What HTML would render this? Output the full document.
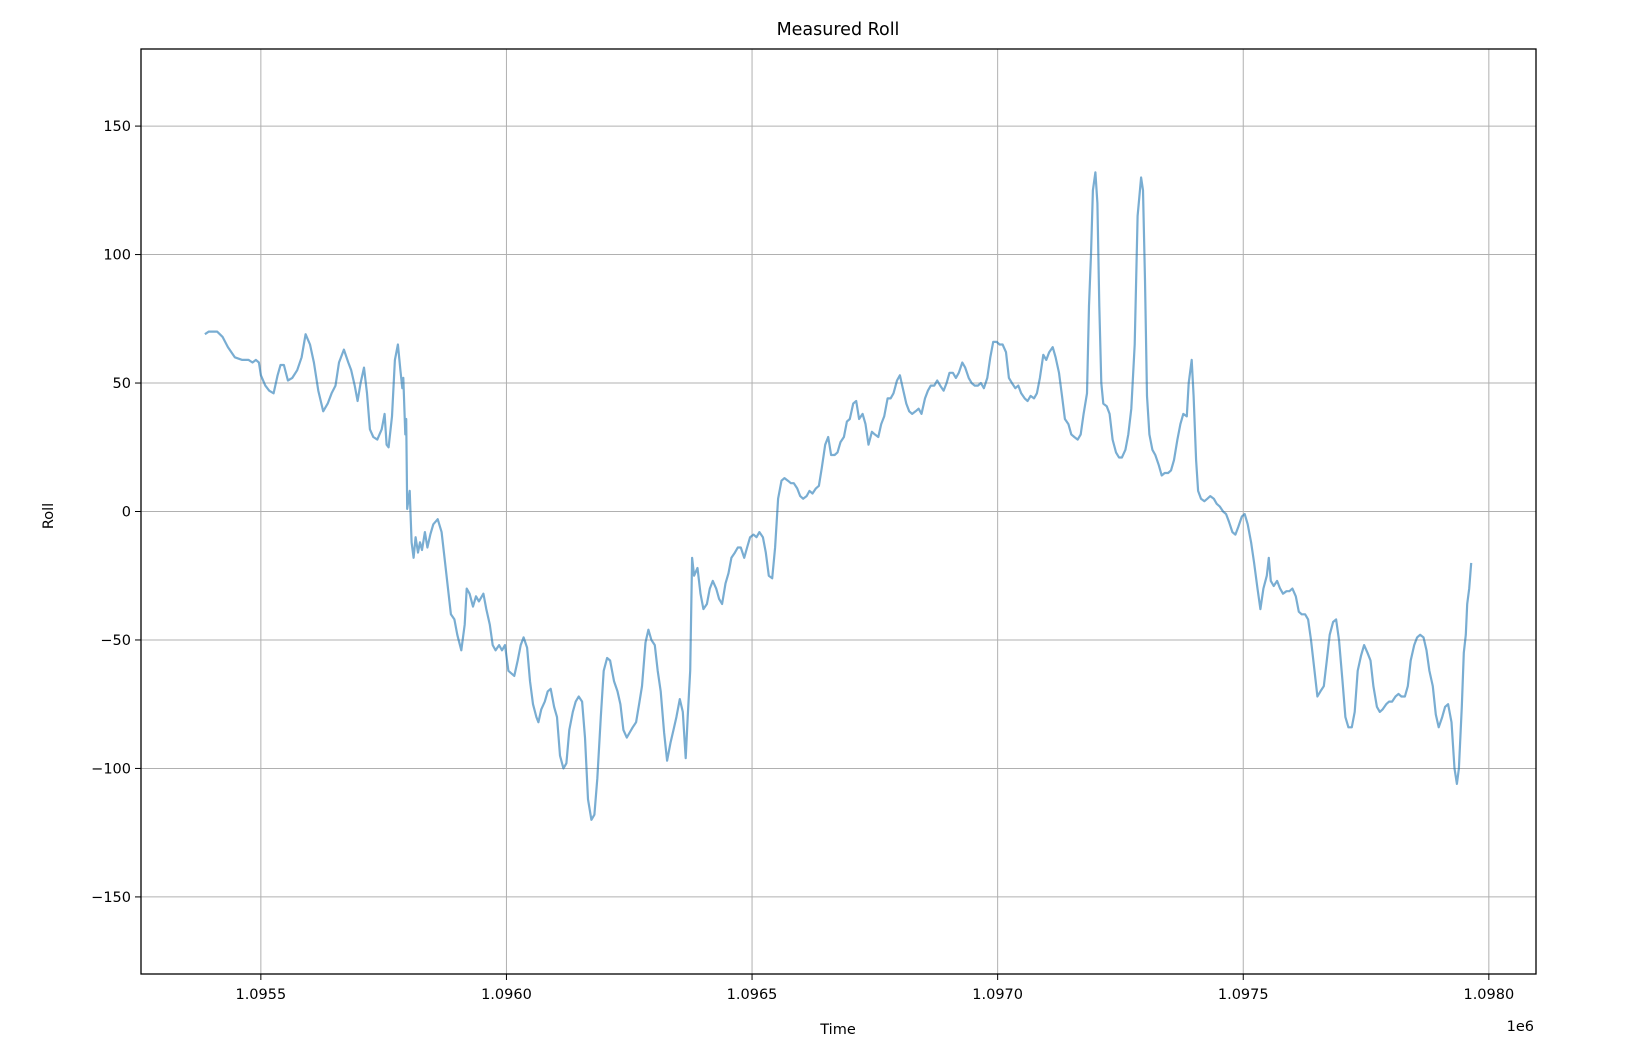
<!DOCTYPE html>
<html><head><meta charset="utf-8"><style>
html,body{margin:0;padding:0;background:#fff;}
svg{display:block;font-family:"DejaVu Sans","Liberation Sans",sans-serif;}
</style></head><body>
<svg id="chart" width="1630" height="1058" viewBox="0 0 1630 1058" xmlns="http://www.w3.org/2000/svg">
<rect width="1630" height="1058" fill="#fff"/>
<text x="838" y="35" text-anchor="middle" font-size="17.5" fill="#000">Measured Roll</text>
<g id="grid"></g>
<g id="ticks"></g>
<g id="series"></g>
<rect x="141" y="49" width="1395" height="925" fill="none" stroke="#000" stroke-width="1.3"/>
<text x="838" y="1034" text-anchor="middle" font-size="14.5" fill="#000">Time</text>
<text x="1534" y="1031" text-anchor="end" font-size="14.5" fill="#000">1e6</text>
<text x="0" y="0" transform="translate(53,516) rotate(-90)" text-anchor="middle" font-size="14.5" fill="#000">Roll</text>
</svg>
<script>
const t0 = 1095386;
const timeOffsets = [0,8,25,36,47,61,76,89,97,104,110,114,123,131,140,148,154,161,169,178,188,197,205,214,222,231,241,250,258,266,273,283,292,298,305,311,317,324,330,336,343,351,360,366,370,374,381,387,393,398,402,404,408,410,412,417,421,425,429,434,438,442,448,453,459,465,474,482,489,495,501,508,514,522,529,533,539,546,552,558,567,573,580,586,592,599,605,611,618,624,630,637,643,649,656,662,668,675,679,685,692,698,704,711,717,723,730,736,742,749,755,761,768,774,780,787,793,799,806,812,819,825,833,840,846,852,859,865,871,878,884,890,897,903,909,916,922,928,935,941,948,954,960,967,973,979,983,988,992,996,1003,1009,1015,1022,1028,1034,1041,1047,1053,1060,1066,1072,1079,1085,1091,1098,1104,1110,1117,1123,1129,1136,1142,1148,1155,1161,1167,1174,1180,1187,1193,1199,1206,1212,1218,1225,1231,1237,1244,1250,1256,1263,1269,1275,1282,1288,1294,1301,1307,1313,1320,1326,1332,1339,1345,1351,1358,1364,1371,1377,1383,1390,1396,1402,1409,1415,1421,1428,1434,1440,1447,1453,1459,1466,1472,1478,1485,1491,1497,1504,1510,1516,1523,1529,1535,1542,1548,1555,1561,1567,1574,1580,1586,1593,1599,1605,1612,1618,1624,1631,1637,1643,1650,1656,1662,1669,1675,1681,1688,1694,1700,1707,1713,1719,1726,1732,1739,1745,1751,1758,1764,1770,1777,1783,1789,1796,1800,1804,1808,1813,1817,1821,1825,1829,1836,1842,1848,1855,1861,1867,1874,1880,1886,1893,1899,1906,1910,1914,1918,1923,1929,1935,1942,1948,1954,1961,1967,1973,1980,1986,1992,1999,2003,2009,2013,2018,2022,2028,2035,2041,2047,2054,2060,2066,2073,2079,2085,2092,2098,2104,2111,2117,2123,2130,2136,2143,2149,2155,2162,2166,2170,2176,2183,2189,2195,2202,2208,2214,2221,2227,2233,2240,2246,2252,2259,2265,2271,2278,2284,2290,2297,2303,2309,2316,2322,2328,2335,2341,2347,2354,2360,2367,2373,2379,2386,2392,2398,2405,2411,2417,2424,2430,2436,2443,2449,2455,2462,2468,2474,2481,2487,2493,2500,2506,2512,2519,2525,2531,2538,2544,2549,2553,2559,2563,2567,2570,2574,2578];
const rollValues = [69,70,70,68,64,60,59,59,58,59,58,53,49,47,46,53,57,57,51,52,55,60,69,65,58,47,39,42,46,49,58,63,58,55,49,43,50,56,46,32,29,28,32,38,26,25,37,59,65,55,48,52,30,36,1,8,-12,-18,-10,-16,-12,-15,-8,-14,-9,-5,-3,-8,-20,-30,-40,-42,-48,-54,-44,-30,-32,-37,-33,-35,-32,-38,-44,-52,-54,-52,-54,-52,-62,-63,-64,-58,-52,-49,-53,-66,-75,-80,-82,-77,-74,-70,-69,-76,-80,-95,-100,-98,-85,-78,-74,-72,-74,-88,-112,-120,-118,-104,-80,-62,-57,-58,-66,-70,-75,-85,-88,-86,-84,-82,-75,-68,-51,-46,-50,-52,-62,-70,-86,-97,-90,-85,-80,-73,-78,-96,-80,-62,-18,-25,-22,-32,-38,-36,-30,-27,-30,-34,-36,-28,-24,-18,-16,-14,-14,-18,-14,-10,-9,-10,-8,-10,-16,-25,-26,-14,5,12,13,12,11,11,9,6,5,6,8,7,9,10,17,26,29,22,22,23,27,29,35,36,42,43,36,38,34,26,31,30,29,34,37,44,44,46,51,53,48,42,39,38,39,40,38,44,47,49,49,51,49,47,50,54,54,52,54,58,56,52,50,49,49,50,48,52,60,66,66,65,65,62,52,50,48,49,46,44,43,45,44,46,52,61,59,62,64,60,54,45,36,34,30,29,28,30,38,46,80,100,125,132,120,80,50,42,41,38,28,23,21,21,24,30,40,65,115,130,125,90,45,30,24,22,18,14,15,15,16,20,28,34,38,37,50,59,45,20,8,5,4,5,6,5,3,2,0,-1,-4,-8,-9,-6,-2,-1,-5,-12,-20,-30,-38,-30,-25,-18,-27,-29,-27,-30,-32,-31,-31,-30,-33,-39,-40,-40,-42,-50,-62,-72,-70,-68,-58,-48,-43,-42,-50,-66,-80,-84,-84,-78,-62,-56,-52,-55,-58,-68,-76,-78,-77,-75,-74,-74,-72,-71,-72,-72,-68,-58,-52,-49,-48,-49,-54,-62,-68,-79,-84,-80,-76,-75,-82,-100,-106,-100,-76,-55,-48,-36,-30,-20];
const xTickValues = [1095500,1096000,1096500,1097000,1097500,1098000];
const xTickLabels = ["1.0955","1.0960","1.0965","1.0970","1.0975","1.0980"];
const yTickValues = [150,100,50,0,-50,-100,-150];
const yTickLabels = ["150","100","50","0","\u221250","\u2212100","\u2212150"];

const NS = "http://www.w3.org/2000/svg";
const L = 141, R = 1536, T = 49, B = 974;
const xMin = 1095256, xMax = 1098096, yMin = -180, yMax = 180;
function xs(t){ return L + (t - xMin) / (xMax - xMin) * (R - L); }
function ys(v){ return B - (v - yMin) / (yMax - yMin) * (B - T); }
function mk(tag, attrs, parent){
  const e = document.createElementNS(NS, tag);
  for (const k in attrs) e.setAttribute(k, attrs[k]);
  parent.appendChild(e);
  return e;
}
const grid = document.getElementById('grid');
const ticks = document.getElementById('ticks');
xTickValues.forEach((v, i) => {
  const x = xs(v);
  const g = mk('line', {x1:x, x2:x, y1:T, y2:B, stroke:'#b0b0b0', 'stroke-width':1}, grid);
  
  
  const tk = mk('line', {x1:x, x2:x, y1:B, y2:B + 6, stroke:'#000', 'stroke-width':1}, ticks);
  
  
  const tx = mk('text', {x:x, y:B + 25, 'text-anchor':'middle', 'font-size':14.5, fill:'#000'}, ticks);
  tx.textContent = xTickLabels[i];
  
  
});
yTickValues.forEach((v, i) => {
  const y = ys(v);
  const g = mk('line', {x1:L, x2:R, y1:y, y2:y, stroke:'#b0b0b0', 'stroke-width':1}, grid);
  
  
  const tk = mk('line', {x1:L - 6, x2:L, y1:y, y2:y, stroke:'#000', 'stroke-width':1}, ticks);
  
  
  const tx = mk('text', {x:L - 10, y:y + 5, 'text-anchor':'end', 'font-size':14.5, fill:'#000'}, ticks);
  tx.textContent = yTickLabels[i];
  
  
});
const pts = timeOffsets.map((d, i) => xs(t0 + d).toFixed(1) + ',' + ys(rollValues[i]).toFixed(1)).join(' ');
const line = mk('polyline', {points:pts, fill:'none', stroke:'#1f77b4', 'stroke-opacity':0.6, 'stroke-width':2.2, 'stroke-linejoin':'round'}, document.getElementById('series'));


</script>
</body></html>
